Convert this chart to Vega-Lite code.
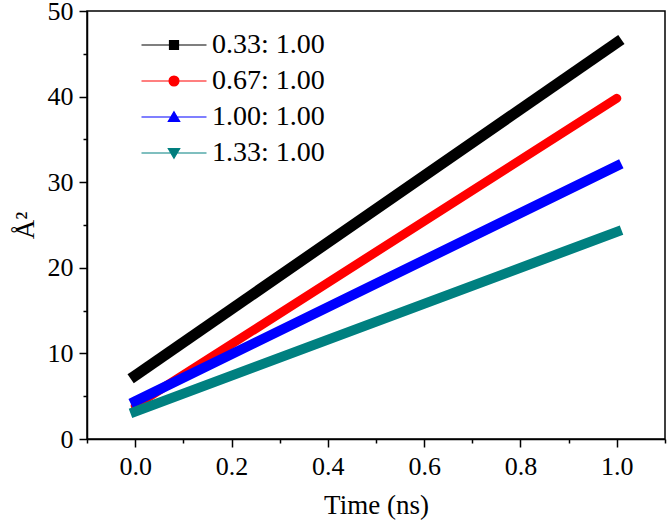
{
  "$schema": "https://vega.github.io/schema/vega-lite/v6.json",
  "width": 578,
  "height": 428,
  "autosize": "none",
  "padding": {"left": 87, "top": 11, "right": 2, "bottom": 87},
  "background": "white",
  "config": {
    "view": {"stroke": "#000000", "strokeWidth": 1.5},
    "font": "Liberation Serif",
    "axis": {
      "grid": false,
      "domainColor": "#000000",
      "domainWidth": 1.5,
      "tickColor": "#000000",
      "tickWidth": 1.5,
      "labelColor": "#000000",
      "labelFont": "Liberation Serif",
      "labelFontSize": 26,
      "labelFlush": false,
      "labelOverlap": false,
      "labelBound": false,
      "titleFont": "Liberation Serif",
      "titleFontSize": 27,
      "titleFontWeight": "normal",
      "titleColor": "#000000"
    }
  },
  "data": {
    "values": [
      {"ratio": "0.33: 1.00", "time": 0.0, "msd": 7.4},
      {"ratio": "0.33: 1.00", "time": 1.0, "msd": 46.3},
      {"ratio": "0.67: 1.00", "time": 0.0, "msd": 3.9},
      {"ratio": "0.67: 1.00", "time": 1.0, "msd": 39.8},
      {"ratio": "1.00: 1.00", "time": 0.0, "msd": 4.4},
      {"ratio": "1.00: 1.00", "time": 1.0, "msd": 31.9},
      {"ratio": "1.33: 1.00", "time": 0.0, "msd": 3.2},
      {"ratio": "1.33: 1.00", "time": 1.0, "msd": 24.2}
    ]
  },
  "encoding": {
    "x": {
      "field": "time",
      "type": "quantitative",
      "scale": {"domain": [-0.1, 1.1], "nice": false, "zero": false},
      "axis": {
        "title": "Time (ns)",
        "values": [-0.1, 0, 0.1, 0.2, 0.3, 0.4, 0.5, 0.6, 0.7, 0.8, 0.9, 1.0, 1.1],
        "labelExpr": "round(datum.value*10)%2==0 ? format(datum.value, '.1f') : ''",
        "tickSize": {"condition": {"test": "round(datum.value*10)%2==0", "value": 8}, "value": 4},
        "labelPadding": 6,
        "titlePadding": 13
      }
    },
    "y": {
      "field": "msd",
      "type": "quantitative",
      "scale": {"domain": [0, 50], "nice": false},
      "axis": {
        "title": "Å²",
        "values": [0, 5, 10, 15, 20, 25, 30, 35, 40, 45, 50],
        "labelExpr": "datum.value % 10 == 0 ? datum.label : ''",
        "tickSize": {"condition": {"test": "datum.value % 10 == 0", "value": 8}, "value": 4},
        "labelPadding": 6,
        "titlePadding": 8
      }
    },
    "color": {
      "field": "ratio",
      "type": "nominal",
      "scale": {
        "domain": ["0.33: 1.00", "0.67: 1.00", "1.00: 1.00", "1.33: 1.00"],
        "range": ["#000000", "#ff0000", "#0000ff", "#008080"]
      },
      "legend": {
        "orient": "none",
        "legendX": 71,
        "legendY": 18,
        "title": null,
        "padding": 0,
        "symbolSize": 900,
        "symbolStrokeWidth": 1.2,
        "symbolType": "M-2.167,0H2.167",
        "labelFont": "Liberation Serif",
        "labelFontSize": 28,
        "labelColor": "#000000",
        "labelOffset": 22,
        "rowPadding": 6,
        "encode": {
          "symbols": {
            "update": {
              "shape": {"signal": "datum.value == '0.33: 1.00' ? 'M-2.167,0H2.167M-0.3,-0.3H0.3V0.3H-0.3Z' : datum.value == '0.67: 1.00' ? 'M-2.167,0H2.167M-0.33,0A0.33,0.33,0,1,0,0.33,0A0.33,0.33,0,1,0,-0.33,0Z' : datum.value == '1.00: 1.00' ? 'M-2.167,0H2.167M0,-0.35L0.38,0.3L-0.38,0.3Z' : 'M-2.167,0H2.167M0,0.35L0.38,-0.3L-0.38,-0.3Z'"},
              "fill": {"signal": "datum.value == '0.33: 1.00' ? '#000000' : datum.value == '0.67: 1.00' ? '#ff0000' : datum.value == '1.00: 1.00' ? '#0000ff' : '#007b7b'"},
              "stroke": {"signal": "datum.value == '0.33: 1.00' ? '#666666' : datum.value == '0.67: 1.00' ? '#d86060' : datum.value == '1.00: 1.00' ? '#6060d0' : '#e8b0e8'"},
              "strokeWidth": {"value": 1.2},
              "opacity": {"value": 1},
              "fillOpacity": {"value": 1},
              "strokeOpacity": {"value": 1}
            }
          }
        }
      }
    }
  },
  "layer": [
    {
      "transform": [{"filter": "datum.ratio == '0.33: 1.00'"}],
      "mark": {"type": "line", "strokeWidth": 11, "strokeCap": "square"}
    },
    {
      "transform": [{"filter": "datum.ratio == '0.67: 1.00'"}],
      "mark": {"type": "line", "strokeWidth": 9, "strokeCap": "round"}
    },
    {
      "transform": [{"filter": "datum.ratio == '1.00: 1.00' || datum.ratio == '1.33: 1.00'"}],
      "mark": {"type": "line", "strokeWidth": 10, "strokeCap": "square"}
    }
  ]
}
